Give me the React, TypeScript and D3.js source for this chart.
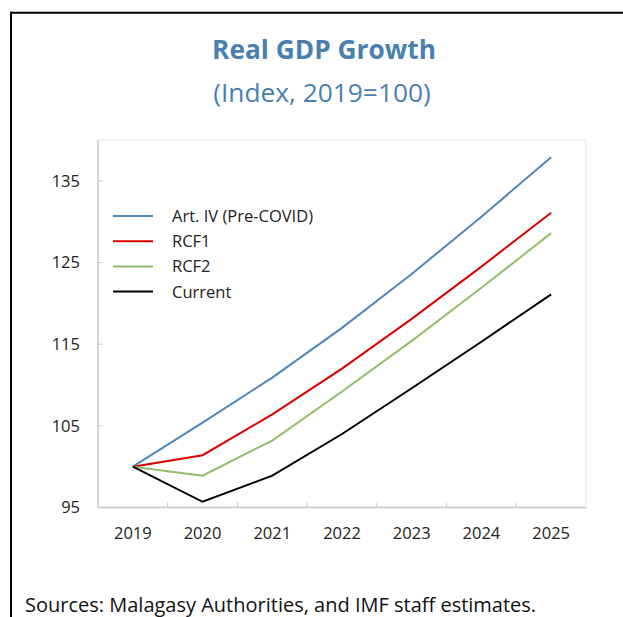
import React from "react";
import * as d3 from "d3";

const years = ["2019", "2020", "2021", "2022", "2023", "2024", "2025"];
const artIV = [100, 105.4, 110.9, 117.0, 123.6, 130.6, 137.9];
const rcf1 = [100, 101.4, 106.4, 112.0, 118.1, 124.5, 131.1];
const rcf2 = [100, 98.9, 103.2, 109.2, 115.4, 121.9, 128.6];
const current = [100, 95.7, 98.9, 104.0, 109.6, 115.3, 121.1];
const yTicks = [95, 105, 115, 125, 135];

const seriesNames = ["Art. IV (Pre-COVID)", "RCF1", "RCF2", "Current"];
const seriesColors = ["#4F86BA", "#D90000", "#92BD6A", "#000000"];
const seriesValues = [artIV, rcf1, rcf2, current];

const W = 623;
const H = 617;
const FONT = "'Open Sans', 'Noto Sans', sans-serif";

export default function App() {
  const m = { left: 98, right: 586, top: 140, bottom: 507.5 };
  const x = d3.scaleBand<string>().domain(years).range([m.left, m.right]);
  const y = d3.scaleLinear().domain([95, 140]).range([m.bottom, m.top]);
  const line = d3
    .line<number>()
    .x((_, i) => (x(years[i]) as number) + x.bandwidth() / 2)
    .y((v) => y(v));

  const legendX = 113;
  const legendY0 = 216;
  const legendStep = 25.2;

  return (
    <svg
      width={W}
      height={H}
      style={{ position: "absolute", left: 0, top: 0, background: "#fff" }}
      fontFamily={FONT}
    >
      <rect x={0} y={0} width={W} height={H} fill="#fff" />
      {/* frame */}
      <line x1={11} x2={W} y1={12.8} y2={12.8} stroke="#000" strokeWidth={2} />
      <line x1={11} x2={11} y1={11.8} y2={H} stroke="#000" strokeWidth={2} />

      {/* titles */}
      <text x={324} y={59.3} textAnchor="middle" fontSize={26.3} fontWeight="bold" fill="#4A7FB0">
        Real GDP Growth
      </text>
      <text x={322} y={102} textAnchor="middle" fontSize={26.3} fill="#4A7FB0">
        (Index, 2019=100)
      </text>

      {/* plot area border */}
      <line x1={m.left} x2={m.right} y1={m.top} y2={m.top} stroke="#E3E3E3" strokeWidth={1} />
      <line x1={m.right} x2={m.right} y1={m.top} y2={m.bottom} stroke="#E3E3E3" strokeWidth={1} />
      {/* axes */}
      <line x1={m.left} x2={m.left} y1={m.top} y2={m.bottom} stroke="#C8C8C8" strokeWidth={1.5} />
      <line x1={m.left} x2={m.right} y1={m.bottom} y2={m.bottom} stroke="#C8C8C8" strokeWidth={1.5} />

      {yTicks.map((t) => (
        <g key={t}>
          <line x1={m.left} x2={m.left + 5} y1={y(t)} y2={y(t)} stroke="#C8C8C8" strokeWidth={1} />
          <text x={80} y={y(t)} dy="0.36em" textAnchor="end" fontSize={16.5} fill="#222">
            {t}
          </text>
        </g>
      ))}

      {years.map((yr, i) => (
        <g key={yr}>
          {i > 0 && (
            <line
              x1={x(yr) as number}
              x2={x(yr) as number}
              y1={m.bottom}
              y2={m.bottom - 5}
              stroke="#C8C8C8"
              strokeWidth={1}
            />
          )}
          <text
            x={(x(yr) as number) + x.bandwidth() / 2}
            y={539.3}
            textAnchor="middle"
            fontSize={16.5}
            fill="#222"
          >
            {yr}
          </text>
        </g>
      ))}

      {seriesValues.map((vals, k) => (
        <path
          key={seriesNames[k]}
          d={line(vals) as string}
          fill="none"
          stroke={seriesColors[k]}
          strokeWidth={2}
        />
      ))}

      {seriesNames.map((name, k) => (
        <g key={name}>
          <line
            x1={legendX}
            x2={legendX + 40}
            y1={legendY0 + k * legendStep}
            y2={legendY0 + k * legendStep}
            stroke={seriesColors[k]}
            strokeWidth={2}
          />
          <text x={172} y={legendY0 + k * legendStep} dy="0.36em" fontSize={16.5} fill="#222">
            {name}
          </text>
        </g>
      ))}

      <text x={25} y={611.7} fontSize={20} fill="#111">
        Sources: Malagasy Authorities, and IMF staff estimates.
      </text>
    </svg>
  );
}
